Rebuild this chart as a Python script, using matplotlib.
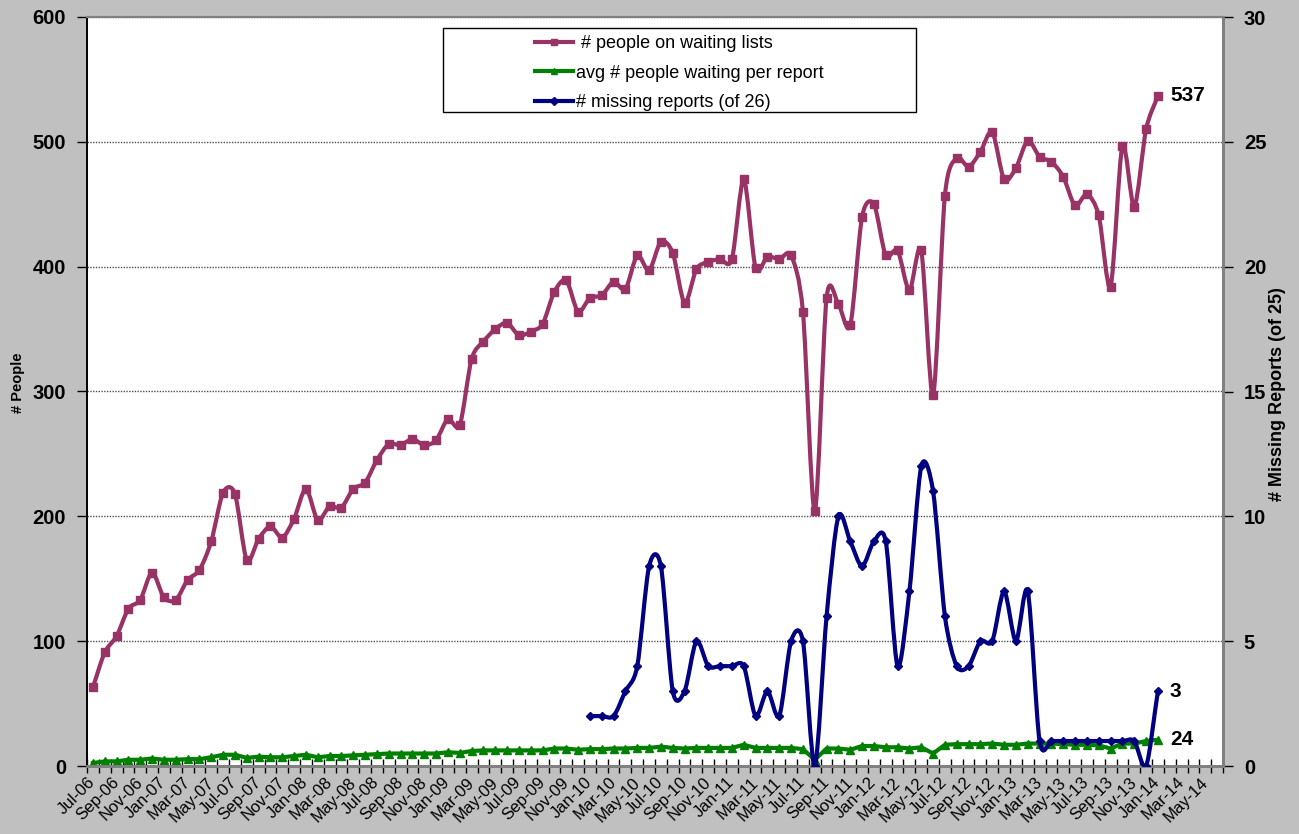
import matplotlib.pyplot as plt
import numpy as np
import pandas as pd
from matplotlib.path import Path
from matplotlib.patches import PathPatch, Rectangle
from matplotlib.lines import Line2D

plt.rcParams['font.family'] = ['Liberation Sans', 'DejaVu Sans']

# category axis: Jul-06 .. Jun-14 (monthly)
months = pd.date_range('2006-07-01', periods=96, freq='MS').strftime('%b-%y').tolist()

# people on waiting lists, Jul-06 .. Jan-14
waiting = [63, 91, 104, 126, 133, 155,
           135, 133, 149, 157, 180, 219, 218, 165, 182, 192, 183, 198,
           222, 197, 208, 207, 222, 227, 245, 258, 257, 262, 257, 261,
           278, 273, 326, 340, 350, 355, 345, 348, 354, 380, 389, 364,
           375, 377, 388, 382, 409, 397, 420, 411, 371, 398, 404, 406,
           406, 470, 399, 408, 406, 409, 364, 204, 375, 370, 353, 440,
           450, 409, 413, 381, 413, 297, 457, 487, 480, 492, 508, 470,
           479, 501, 488, 484, 472, 449, 458, 441, 384, 497, 448, 510,
           537]

# avg people waiting per report, Jul-06 .. Jan-14
avg_waiting = [2.4, 3.7, 3.7, 5, 5, 6,
               5, 5, 5.5, 5.5, 7, 9, 9, 6.5, 7.5, 7, 7, 8,
               9, 7, 8, 8, 8.5, 9, 9.5, 10, 10, 10, 10, 10,
               11, 10.5, 12, 12.5, 12.5, 12.5, 12.5, 12.5, 12.5, 14, 14, 13,
               13.5, 13.5, 14, 14, 14.5, 14.5, 15.5, 14.5, 14, 14.5, 14.5, 14.5,
               14.5, 17, 14.5, 14.5, 14.5, 14.5, 13.5, 5, 14, 14, 13, 16,
               16, 15, 15, 14, 15, 10, 17, 17.5, 17.5, 17.5, 18, 17,
               17, 18, 18, 18, 17.5, 17, 17, 16.5, 14, 18, 18, 20,
               21]

# missing reports, Jan-10 .. Jan-14
missing_start = 42
missing = [2, 2, 2, 3, 4, 8, 8, 3, 3, 5, 4, 4,
           4, 4, 2, 3, 2, 5, 5, 0, 6, 10, 9, 8,
           9, 9, 4, 7, 12, 11, 6, 4, 4, 5, 5, 7,
           5, 7, 1, 1, 1, 1, 1, 1, 1, 1, 1, 0,
           3]

PINK = '#993366'
GREEN = '#008000'
NAVY = '#000080'


def smooth_path(xs, ys):
    # bezier curve through the points, like excel's smoothed line
    pts = np.column_stack([xs, ys]).astype(float)
    tang = np.zeros_like(pts)
    tang[1:-1] = (pts[2:] - pts[:-2]) / 2
    tang[0] = pts[1] - pts[0]
    tang[-1] = pts[-1] - pts[-2]
    verts = [pts[0]]
    codes = [Path.MOVETO]
    for i in range(len(pts) - 1):
        verts += [pts[i] + tang[i] / 3.5, pts[i + 1] - tang[i + 1] / 3.5, pts[i + 1]]
        codes += [Path.CURVE4] * 3
    return Path(verts, codes)


fig = plt.figure(figsize=(12.99, 8.34), dpi=100, facecolor='#C0C0C0')
ax = fig.add_axes([87 / 1299, 68 / 834, 1136 / 1299, 749 / 834])
ax.set_facecolor('white')
ax2 = ax.twinx()

x_w = np.arange(len(waiting))
x_a = np.arange(len(avg_waiting))
x_m = np.arange(missing_start, missing_start + len(missing))

# left axis series
ax.add_patch(PathPatch(smooth_path(x_w, waiting), fill=False, edgecolor=PINK,
                       lw=3, capstyle='round', joinstyle='round', zorder=3))
ax.plot(x_w, waiting, ls='none', marker='s', ms=5.5, color=PINK, zorder=4)
ax.plot(x_a, avg_waiting, color=GREEN, lw=3, marker='^', ms=6, zorder=3)

# right axis series
ax2.add_patch(PathPatch(smooth_path(x_m, missing), fill=False, edgecolor=NAVY,
                        lw=3, capstyle='round', joinstyle='round', zorder=3))
ax2.plot(x_m, missing, ls='none', marker='D', ms=4.5, color=NAVY, zorder=4)

# axes limits / ticks
ax.set_xlim(-0.5, 95.5)
ax.set_ylim(0, 600)
ax2.set_ylim(0, 30)
ax.set_yticks(np.arange(0, 601, 100))
ax2.set_yticks(np.arange(0, 31, 5))

ax.set_xticks(np.arange(-0.5, 96, 1))
ax.set_xticklabels([])
ax.set_xticks(np.arange(0, 96, 2), minor=True)
ax.set_xticklabels(months[::2], minor=True, rotation=45, ha='right', va='center',
                   rotation_mode='anchor', fontsize=12)
ax.tick_params(axis='x', which='major', direction='inout', length=10, width=1, color='black')
ax.tick_params(axis='x', which='minor', length=0, pad=10)

ax.tick_params(axis='y', direction='out', length=7, width=1, pad=8, labelsize=14.5)
ax2.tick_params(axis='y', direction='out', length=7, width=1, pad=8, labelsize=14.5)
for lbl in ax.get_yticklabels() + ax2.get_yticklabels():
    lbl.set_fontweight('bold')

ax.yaxis.grid(True, color='#505050', ls=(0, (1, 1)), lw=1)
ax.set_axisbelow(True)

for a in (ax, ax2):
    a.spines['top'].set_color('#808080')
    a.spines['top'].set_linewidth(1.5)
    a.spines['right'].set_color('#808080')
    a.spines['right'].set_linewidth(2)
    a.spines['bottom'].set_color('#808080')
    a.spines['bottom'].set_linewidth(2)
    a.spines['left'].set_color('black')
    a.spines['left'].set_linewidth(1.2)

fig.text(18 / 1299, 1 - 383 / 834, '# People', rotation=90, ha='center', va='center',
         fontsize=10.5, fontweight='bold')
fig.text(1278 / 1299, 1 - 394 / 834, '# Missing Reports (of 25)', rotation=90,
         ha='center', va='center', fontsize=13, fontweight='bold')

# end labels
ax.annotate('537', xy=(x_w[-1], waiting[-1]), xytext=(12, 0), textcoords='offset pixels',
            ha='left', va='center', fontsize=15, fontweight='bold')
ax.annotate('24', xy=(x_a[-1], avg_waiting[-1]), xytext=(12, 0), textcoords='offset pixels',
            ha='left', va='center', fontsize=15, fontweight='bold')
ax2.annotate('3', xy=(x_m[-1], missing[-1]), xytext=(12, 0), textcoords='offset pixels',
             ha='left', va='center', fontsize=15, fontweight='bold')

# legend box
ax2.add_patch(Rectangle((356 / 1136, (766 - 112) / 749), 473 / 1136, 84 / 749,
                        transform=ax2.transAxes, facecolor='white', edgecolor='black',
                        lw=1, zorder=10))
handles = [Line2D([], [], color=PINK, lw=3, marker='s', ms=5),
           Line2D([], [], color=GREEN, lw=3, marker='^', ms=5),
           Line2D([], [], color=NAVY, lw=3, marker='D', ms=4)]
labels = [' # people on waiting lists', 'avg # people waiting per report',
          '# missing reports (of 26)']
leg = ax2.legend(handles, labels, loc='upper left', bbox_to_anchor=(448 / 1136, 1 - 18 / 749),
                 frameon=False, fontsize=13, handlelength=2.1, handletextpad=0.15,
                 labelspacing=0.7, borderpad=0, borderaxespad=0)
leg.set_zorder(11)

fig.savefig('out.png', dpi=100, facecolor=fig.get_facecolor())
